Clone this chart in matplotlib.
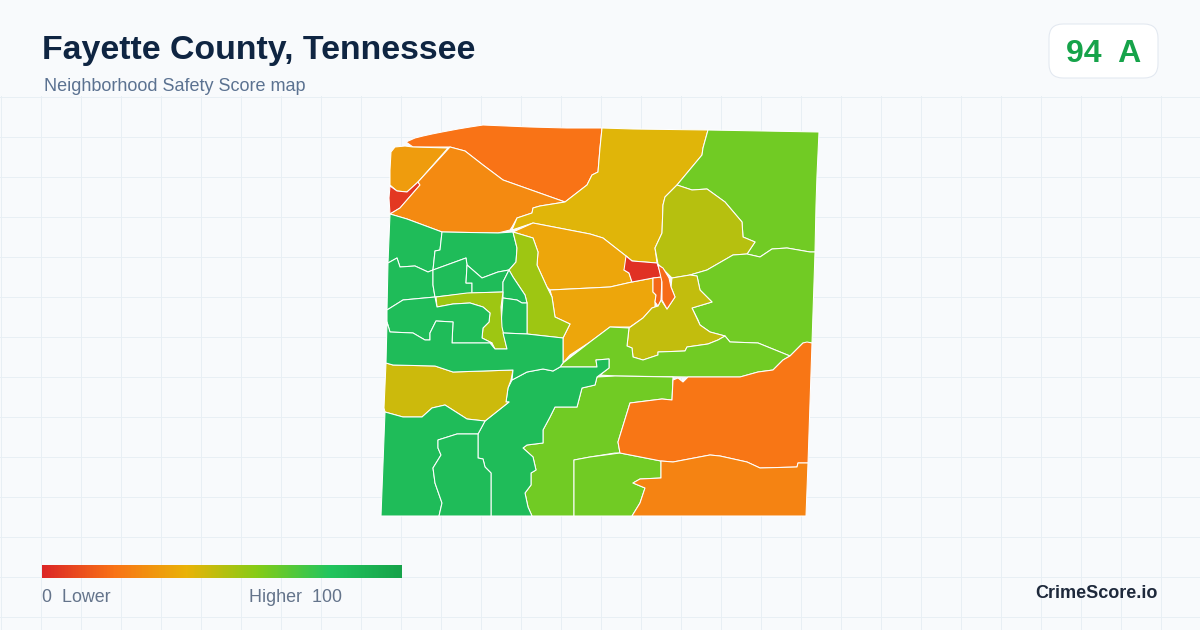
import numpy as np
import matplotlib
matplotlib.use("Agg")
import matplotlib.pyplot as plt
from matplotlib.collections import PolyCollection
from matplotlib.colors import LinearSegmentedColormap, Normalize
from matplotlib.patches import FancyBboxPatch

plt.rcParams['font.family'] = ['Liberation Sans', 'DejaVu Sans']

TITLE = "Fayette County, Tennessee"
SUBTITLE = "Neighborhood Safety Score map"
SCORE_LABEL = "94  A"
LOW_LABEL = "0  Lower"
HIGH_LABEL = "Higher  100"
BRAND = "CrimeScore.io"

# score colour ramp, same stops as the legend
ramp_stops = [0.0, 0.2, 0.4, 0.6, 0.8, 1.0]
ramp_colors = ['#dc2626', '#f97316', '#eab308', '#84cc16', '#22c55e', '#16a34a']

# tract outlines in image pixels
north_top = [(406,142),(415,138),(423,136),(432,134),(442,132),(458,129),(470,127),(483,125),(530,127),(567,128),(602,128),
             (600,148),(598,172),(592,175),(587,185),(565,202),(503,180),(483,165),(465,151),(450,147),(413,147)]
north_left = [(391,152),(395,147),(405,146),(413,147),(448,148),(418,182),(407,192),(397,191),(390,185),(390,170)]
red_sliver = [(390,186),(397,191),(407,192),(418,182),(420,185),(400,208),(390,214),(389,198)]
north_big = [(450,147),(465,151),(483,165),(503,180),(565,202),(540,206),(533,208),(532,213),(517,218),(512,227),
             (510,230),(498,233),(442,232),(407,219),(390,214),(400,208),(420,185),(418,182)]
gold_top = [(602,128),(633,129),(708,130),(703,148),(702,155),(677,185),(665,197),(663,205),(662,233),(655,248),
            (657,263),(632,261),(626,256),(603,238),(590,234),(533,223),(512,230),(517,218),(532,213),(533,208),
            (540,206),(565,202),(587,185),(592,175),(598,172),(600,148)]
amber_mid = [(513,232),(533,223),(590,234),(603,238),(626,256),(632,261),(624,270),(629,273),(632,282),(610,287),
             (550,290),(547,287),(537,265),(538,252),(533,238)]
amber_low = [(550,290),(610,287),(632,282),(653,278),(653,292),(656,295),(655,302),(655,307),(652,308),(643,318),
             (630,327),(610,327),(590,342),(570,355),(563,363),(563,338),(570,324),(555,317),(552,297)]
ne_lime = [(708,130),(819,132),(817,175),(816,205),(815,252),(810,252),(787,248),(772,249),(760,257),(747,254),(755,242),
           (743,237),(742,222),(725,202),(707,189),(692,190),(677,185),(702,155),(703,148)]
ne_olive = [(677,185),(692,190),(707,189),(725,202),(742,222),(743,237),(755,242),(747,254),(733,255),(707,270),
            (690,275),(672,278),(662,268),(658,264),(655,248),(662,233),(663,205),(665,197)]
east_lime = [(815,252),(810,252),(787,248),(772,249),(760,257),(747,254),(733,255),(707,270),(690,275),(697,276),
             (700,290),(712,302),(692,308),(698,320),(700,325),(710,332),(725,336),(730,342),(758,343),(790,356),
             (803,343),(812,343)]
center_olive = [(672,278),(690,275),(697,276),(700,290),(712,302),(692,308),(700,325),(710,332),(725,336),(718,340),
                (708,344),(687,347),(685,351),(658,352),(658,355),(643,360),(633,357),(632,348),(627,346),(629,328),
                (643,318),(652,308),(658,306),(661,300),(667,309),(675,297),(671,287)]
center_band = [(563,363),(590,342),(610,327),(629,328),(627,346),(632,348),(633,357),(643,360),(658,355),(658,352),
               (685,351),(687,347),(708,344),(718,340),(725,336),(730,342),(758,343),(790,356),(783,360),(773,370),
               (758,372),(740,377),(690,377),(615,376),(600,375),(609,368),(609,359),(596,360),(597,367),(560,367)]
south_lime = [(597,377),(615,376),(673,377),(672,400),(662,399),(630,403),(618,442),(620,453),(615,453),(590,457),
              (574,460),(574,516),(532,516),(528,507),(525,493),(531,485),(531,473),(536,470),(533,457),(523,448),
              (527,445),(543,443),(543,430),(550,417),(555,407),(577,407),(582,388),(595,385)]
bottom_lime = [(574,460),(590,457),(620,453),(661,461),(661,478),(640,479),(633,483),(645,488),(640,503),(632,516),(574,516)]
se_orange = [(630,403),(662,399),(672,400),(673,380),(678,378),(683,382),(688,377),(740,377),(758,372),(773,370),
             (783,360),(790,356),(803,343),(807,342),(812,343),(808,463),(798,463),(797,467),(760,468),(747,462),
             (720,456),(710,455),(673,462),(661,461),(620,453),(618,442)]
se_bottom = [(661,461),(673,462),(710,455),(720,456),(747,462),(760,468),(797,467),(798,463),(808,463),(806,516),
             (632,516),(640,503),(645,488),(633,483),(640,479),(661,478)]
center_red = [(626,256),(632,261),(657,263),(662,277),(653,278),(632,282),(629,273),(624,270)]
sliver_left = [(653,278),(662,277),(661,300),(658,306),(655,302),(656,295),(653,292)]
sliver_right = [(658,265),(663,268),(669,278),(671,287),(675,297),(667,309),(662,300),(662,282)]
corridor = [(512,380),(527,372),(543,369),(553,371),(560,367),(597,367),(596,360),(609,359),(609,368),(597,377),
            (595,385),(582,388),(577,407),(555,407),(550,417),(543,430),(543,443),(527,445),(523,448),(533,457),
            (536,470),(531,473),(531,485),(525,493),(528,507),(532,516),(491,516),(491,473),(485,467),(483,459),
            (478,458),(478,434),(485,421),(509,402),(506,402),(508,388)]
sw_yellow = [(386,363),(393,365),(435,366),(453,372),(513,370),(511,380),(508,388),(506,402),(509,402),(485,421),
             (467,419),(445,405),(432,408),(422,417),(403,417),(385,412),(384,408)]
sw_big = [(385,412),(403,417),(422,417),(432,408),(445,405),(467,419),(485,421),(478,434),(457,434),(438,440),
          (438,448),(441,455),(433,468),(435,483),(442,503),(439,516),(381,516)]
sw_inner = [(457,434),(478,434),(478,458),(483,459),(485,467),(491,473),(491,516),(439,516),(442,503),(435,483),
            (433,468),(441,455),(438,448),(438,440)]
west_top = [(390,214),(407,219),(442,232),(440,250),(435,251),(433,270),(428,272),(415,266),(400,267),(397,258),(388,263)]
mid_top = [(442,232),(498,233),(513,232),(517,248),(516,262),(509,270),(498,272),(482,278),(467,265),(466,258),
           (433,270),(435,251),(440,250)]
west_mid = [(388,263),(397,258),(400,267),(415,266),(428,272),(433,270),(433,285),(435,297),(403,300),(387,310)]
box_a = [(433,270),(466,258),(467,265),(466,283),(472,283),(472,293),(435,297),(433,285)]
box_b = [(467,265),(482,278),(498,272),(509,270),(503,282),(503,292),(472,293),(472,283),(466,283)]
east_strip = [(513,232),(533,238),(538,252),(537,265),(547,287),(552,297),(555,317),(570,324),(563,338),(527,334),
              (527,303),(525,295),(513,277),(509,270),(516,262),(517,248)]
strip_a = [(509,270),(513,277),(525,295),(527,303),(522,303),(517,300),(503,298),(503,282)]
strip_b = [(503,298),(517,300),(522,303),(527,303),(527,334),(503,333),(501,325)]
inner_lime = [(436,297),(467,293),(503,292),(501,307),(502,327),(507,349),(495,349),(492,343),(482,338),(483,328),
              (489,322),(490,313),(483,307),(470,303),(453,304),(437,307)]
west_lobe = [(387,310),(403,300),(435,297),(437,307),(453,304),(470,303),(483,307),(490,313),(489,322),(483,328),
             (482,338),(492,343),(490,343),(452,343),(453,322),(436,321),(430,333),(430,340),(425,340),(413,333),
             (390,332),(387,322)]
lower_band = [(387,322),(390,332),(413,333),(425,340),(430,340),(430,333),(436,321),(453,322),(452,343),(490,343),
              (495,349),(507,349),(503,333),(527,334),(563,338),(563,363),(560,367),(553,371),(543,369),(527,372),
              (512,380),(513,370),(453,372),(435,366),(393,365),(386,363)]

regions = [north_top, north_left, red_sliver, north_big, gold_top, amber_mid, amber_low, ne_lime, ne_olive, east_lime,
           center_olive, center_band, south_lime, bottom_lime, se_orange, se_bottom, center_red, sliver_left,
           sliver_right, corridor, sw_yellow, sw_big, sw_inner, west_top, mid_top, west_mid, box_a, box_b,
           east_strip, strip_a, strip_b, inner_lime, west_lobe, lower_band]
scores = [20, 33, 5, 27, 42, 36, 36, 64, 50, 64,
          48, 64, 64, 64, 21, 25, 3, 17,
          18, 85, 46, 85, 85, 85, 85, 85, 85, 85,
          55, 85, 85, 55, 85, 85]

fig = plt.figure(figsize=(12, 6.3), dpi=100, facecolor='#f8fafc')
ax = fig.add_axes([0, 0, 1, 1])
ax.set_facecolor('#f8fafc')

# background grid only starts under the header
for x in np.arange(0.5, 1200, 40):
    ax.plot([x, x], [96, 630], color='#e8eff4', lw=0.72, zorder=1)
for y in np.arange(96.5, 630, 40):
    ax.plot([0, 1200], [y, y], color='#e8eff4', lw=0.72, zorder=1)

cmap = LinearSegmentedColormap.from_list('score', list(zip(ramp_stops, ramp_colors)))
norm = Normalize(0, 100)
tracts = PolyCollection(regions, array=np.array(scores, dtype=float), cmap=cmap, norm=norm,
                        edgecolors='#ffffff', linewidths=0.75, zorder=3)
ax.add_collection(tracts)

# legend bar
gradient = np.linspace(0, 100, 360).reshape(1, -1)
ax.imshow(gradient, cmap=cmap, norm=norm, extent=(42, 402, 578, 565), aspect='auto', zorder=3)
ax.text(42, 602.5, LOW_LABEL, fontsize=12.9, color='#64748b', va='baseline', zorder=4)
ax.text(249, 602.5, HIGH_LABEL, fontsize=12.9, color='#64748b', va='baseline', zorder=4)

# header
ax.text(42, 59, TITLE, fontsize=24.4, fontweight='bold', color='#0f2542', va='baseline', zorder=4)
ax.text(44, 91, SUBTITLE, fontsize=12.95, color='#5b7291', va='baseline', zorder=4)

badge = FancyBboxPatch((1061, 36), 85, 30, boxstyle='round,pad=12,rounding_size=14', fc='#ffffff',
                       ec='#e2e8f0', lw=0.75, zorder=2)
ax.add_patch(badge)
ax.text(1103.5, 61.5, SCORE_LABEL, fontsize=23, fontweight='bold', color='#16a34a', ha='center', va='baseline', zorder=4)

ax.text(1158, 598.5, BRAND, fontsize=13, fontweight='bold', color='#1e293b', ha='right', va='baseline', zorder=4)

ax.set_xlim(0, 1200)
ax.set_ylim(630, 0)
ax.axis('off')
fig.savefig('out.png', dpi=100, facecolor=fig.get_facecolor())
plt.close(fig)
